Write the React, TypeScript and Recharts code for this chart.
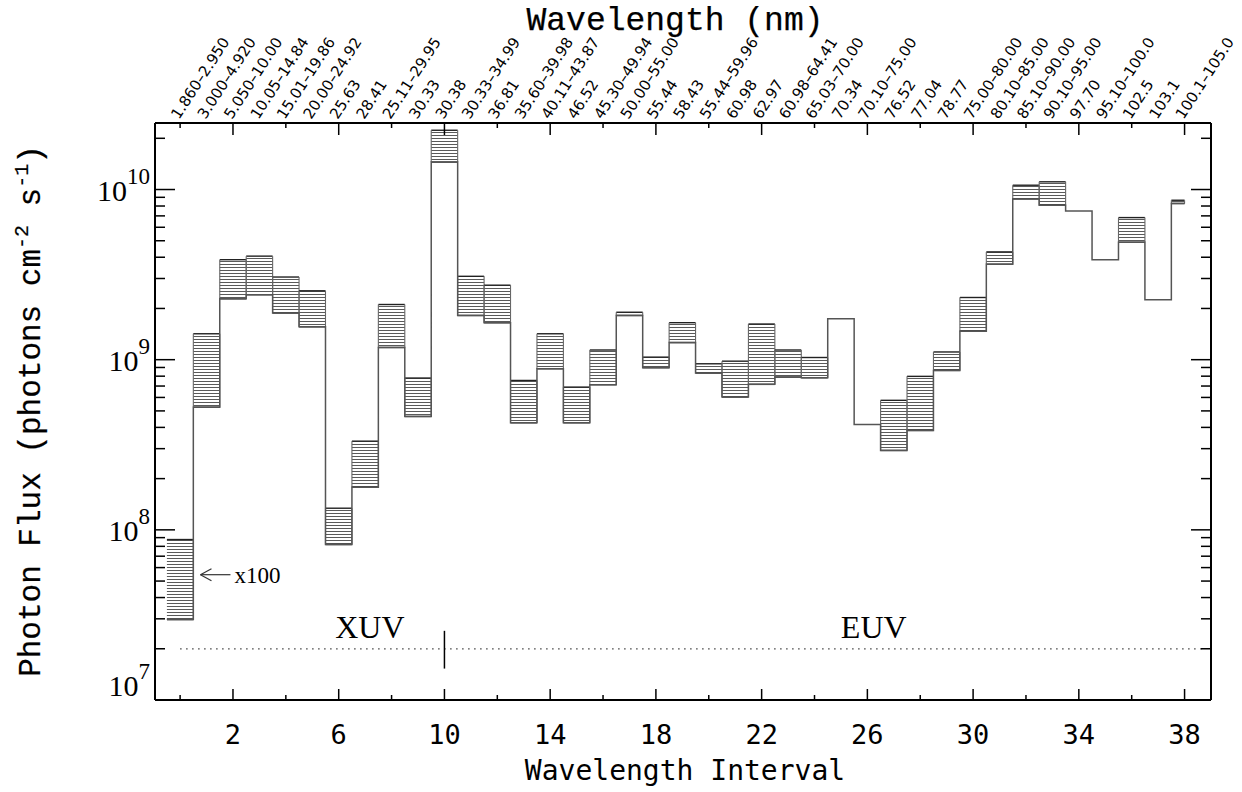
import React from "react";
import {
  ComposedChart,
  XAxis,
  YAxis,
  Line,
  ReferenceArea,
  ReferenceLine,
  ReferenceDot,
} from "recharts";

// Wavelength bin labels (nm), one per interval, index 0..38
const intervalLabels = [
  "1.860–2.950", "3.000–4.920", "5.050–10.00", "10.05–14.84", "15.01–19.86",
  "20.00–24.92", "25.63", "28.41", "25.11–29.95", "30.33",
  "30.38", "30.33–34.99", "36.81", "35.60–39.98", "40.11–43.87",
  "46.52", "45.30–49.94", "50.00–55.00", "55.44", "58.43",
  "55.44–59.96", "60.98", "62.97", "60.98–64.41", "65.03–70.00",
  "70.34", "70.10–75.00", "76.52", "77.04", "78.77",
  "75.00–80.00", "80.10–85.00", "85.10–90.00", "90.10–95.00", "97.70",
  "95.10–100.0", "102.5", "103.1", "100.1–105.0",
];

// lowest and highest photon flux in each interval (photons cm^-2 s^-1)
const fluxLow = [
  2.97e7, 5.26e8, 2.28e9, 2.41e9, 1.88e9,
  1.56e9, 8.2e7, 1.78e8, 1.18e9, 4.64e8,
  1.45e10, 1.82e9, 1.65e9, 4.26e8, 8.85e8,
  4.26e8, 7.13e8, 1.82e9, 8.98e8, 1.26e9,
  8.34e8, 6.03e8, 7.16e8, 7.9e8, 7.83e8,
  1.74e9, 4.16e8, 2.93e8, 3.84e8, 8.65e8,
  1.47e9, 3.64e9, 8.81e9, 8.09e9, 7.48e9,
  3.87e9, 4.9e9, 2.25e9, 8.28e9,
];
const fluxHigh = [
  8.77e7, 1.42e9, 3.87e9, 4.06e9, 3.06e9,
  2.54e9, 1.34e8, 3.32e8, 2.11e9, 7.8e8,
  2.23e10, 3.09e9, 2.74e9, 7.55e8, 1.42e9,
  6.9e8, 1.14e9, 1.9e9, 1.035e9, 1.65e9,
  9.46e8, 9.8e8, 1.62e9, 1.14e9, 1.03e9,
  1.74e9, 4.16e8, 5.77e8, 7.98e8, 1.11e9,
  2.32e9, 4.3e9, 1.06e10, 1.11e10, 7.48e9,
  3.87e9, 6.84e9, 2.25e9, 8.65e9,
];

const bottomTicks = [0, 2, 4, 6, 8, 10, 12, 14, 16, 18, 20, 22, 24, 26, 28, 30, 32, 34, 36, 38];
const bottomLabels = [2, 6, 10, 14, 18, 22, 26, 30, 34, 38];
const yDecades = [1e7, 1e8, 1e9, 1e10];
const yMinor = [2, 3, 4, 5, 6, 7, 8, 9];

const Y_MIN = 1e7;
const Y_MAX = 2.46e10;
const LAST = intervalLabels.length - 1;

const yTicks = yDecades
  .flatMap((d) => [d, ...yMinor.map((m) => m * d)])
  .filter((v) => v <= Y_MAX);
const topTicks = intervalLabels.map((_, i) => i);

// histogram outline through the lowest value of each bin
const stepData = fluxLow.map((v, i) => ({ x: i - 0.5, flux: v }));
stepData.push({ x: LAST, flux: fluxLow[LAST] });

const MONO = "'DejaVu Sans Mono', monospace";
const SERIF_MONO = "'Liberation Mono', monospace";

function BandShape(props: any) {
  const { x, y, width, height, idx } = props;
  if (width == null || height == null) return null;
  const pid = `hatch-${idx}`;
  return (
    <g>
      <defs>
        <pattern id={pid} patternUnits="userSpaceOnUse" width={8} height={3}>
          <rect x={0} y={0} width={8} height={1} fill="#5a5a5a" />
        </pattern>
      </defs>
      <rect x={x} y={y} width={width} height={height} fill={`url(#${pid})`} />
      <line x1={x} x2={x + width} y1={y} y2={y} stroke="#222" strokeWidth={1.4} />
      <line x1={x} x2={x + width} y1={y + height} y2={y + height} stroke="#333" strokeWidth={1.4} />
      {idx !== 0 && (
        <line x1={x} x2={x} y1={y} y2={y + height} stroke="#666" strokeWidth={1.1} />
      )}
      <line x1={x + width} x2={x + width} y1={y} y2={y + height} stroke="#666" strokeWidth={1.1} />
    </g>
  );
}

function BottomTick({ x, y, payload }: any) {
  const v = payload.value;
  const labeled = bottomLabels.includes(v);
  return (
    <g>
      <line x1={x} x2={x} y1={y} y2={y - (labeled ? 11 : 5)} stroke="#000" strokeWidth={1.5} />
      {labeled && (
        <text x={x} y={y + 44} textAnchor="middle" fontFamily={MONO} fontSize={27} fill="#000">
          {v}
        </text>
      )}
    </g>
  );
}

function TopTick({ x, y, payload }: any) {
  const i = payload.value;
  const even = i % 2 === 0;
  const long = bottomLabels.includes(i);
  const tx = x - 1;
  const ty = y - 3;
  return (
    <g>
      {even && (
        <line x1={x} x2={x} y1={y} y2={y + (long ? 12 : 5)} stroke="#000" strokeWidth={1.5} />
      )}
      <text
        x={tx}
        y={ty}
        transform={`rotate(-57 ${tx} ${ty})`}
        textAnchor="start"
        fontFamily="'DejaVu Sans', sans-serif"
        fontSize={15}
        fill="#000"
      >
        {intervalLabels[i]}
      </text>
    </g>
  );
}

function LeftTick({ x, y, payload }: any) {
  const v = payload.value;
  const major = yDecades.includes(v);
  const exp = Math.round(Math.log10(v));
  const base = v === Y_MIN ? y - 4 : y + 11;
  return (
    <g>
      <line x1={x} x2={x + (major ? 20 : 10)} y1={y} y2={y} stroke="#000" strokeWidth={1.5} />
      {major && (
        <text x={x - 5} y={base} textAnchor="end" fontFamily="'Liberation Serif', serif" fill="#000">
          <tspan fontSize={30}>10</tspan>
          <tspan fontSize={23} dy={-17}>{exp}</tspan>
        </text>
      )}
    </g>
  );
}

function RightTick({ x, y, payload }: any) {
  const major = yDecades.includes(payload.value);
  return <line x1={x} x2={x - (major ? 20 : 10)} y1={y} y2={y} stroke="#000" strokeWidth={1.5} />;
}

export default function App() {
  return (
    <div style={{ position: "absolute", left: 0, top: 0, width: 1242, height: 792, background: "#fff" }}>
      <ComposedChart width={1242} height={792} margin={{ top: 63, right: 1, bottom: 32, left: 75 }}>
        <XAxis
          xAxisId="b"
          dataKey="x"
          type="number"
          domain={[-0.95, 39]}
          allowDataOverflow
          ticks={bottomTicks}
          interval={0}
          tickSize={0}
          tickMargin={0}
          tickLine={false}
          tick={<BottomTick />}
          height={60}
          axisLine={{ stroke: "#000", strokeWidth: 2 }}
          label={{
            content: () => (
              <text x={685} y={780} textAnchor="middle" fontFamily={MONO} fontSize={28} fill="#000">
                Wavelength Interval
              </text>
            ),
          }}
        />
        <XAxis
          xAxisId="t"
          orientation="top"
          dataKey="x"
          type="number"
          domain={[-0.95, 39]}
          allowDataOverflow
          ticks={topTicks}
          interval={0}
          tickSize={0}
          tickMargin={0}
          tickLine={false}
          tick={<TopTick />}
          height={60}
          axisLine={{ stroke: "#000", strokeWidth: 2 }}
          label={{
            content: () => (
              <text
                x={675}
                y={30}
                textAnchor="middle"
                fontFamily={SERIF_MONO}
                fontSize={33}
                fill="#000"
                stroke="#000"
                strokeWidth={0.25}
              >
                Wavelength (nm)
              </text>
            ),
          }}
        />
        <YAxis
          yAxisId="l"
          scale="log"
          domain={[Y_MIN, Y_MAX]}
          allowDataOverflow
          ticks={yTicks}
          interval={0}
          tickSize={0}
          tickMargin={0}
          tickLine={false}
          tick={<LeftTick />}
          width={80}
          axisLine={{ stroke: "#000", strokeWidth: 2 }}
          label={{
            content: () => (
              <text
                transform="translate(40 411) rotate(-90)"
                textAnchor="middle"
                fontFamily={SERIF_MONO}
                fontSize={31}
                fill="#000"
                stroke="#000"
                strokeWidth={0.2}
              >
                Photon Flux (photons cm
                <tspan fontSize={20} dy={-12}>-2</tspan>
                <tspan dy={12}> s</tspan>
                <tspan fontSize={20} dy={-12}>-1</tspan>
                <tspan dy={12}>)</tspan>
              </text>
            ),
          }}
        />
        <YAxis
          yAxisId="r"
          orientation="right"
          scale="log"
          domain={[Y_MIN, Y_MAX]}
          allowDataOverflow
          ticks={yTicks}
          interval={0}
          tickSize={0}
          tickMargin={0}
          tickLine={false}
          tick={<RightTick />}
          width={30}
          axisLine={{ stroke: "#000", strokeWidth: 2 }}
        />

        {fluxLow.map((lo, i) =>
          fluxHigh[i] > lo ? (
            <ReferenceArea
              key={`band-${i}`}
              xAxisId="b"
              yAxisId="l"
              x1={i - 0.5}
              x2={i === LAST ? i : i + 0.5}
              y1={lo}
              y2={fluxHigh[i]}
              shape={(p: any) => <BandShape {...p} idx={i} />}
            />
          ) : null
        )}

        <Line
          xAxisId="b"
          yAxisId="l"
          data={stepData}
          dataKey="flux"
          type="stepAfter"
          stroke="#555"
          strokeWidth={1.5}
          dot={false}
          activeDot={false}
          isAnimationActive={false}
        />
        <Line
          xAxisId="t"
          yAxisId="r"
          data={stepData}
          dataKey="flux"
          stroke="none"
          dot={false}
          activeDot={false}
          isAnimationActive={false}
        />

        <ReferenceLine
          xAxisId="b"
          yAxisId="l"
          segment={[{ x: 0, y: 2e7 }, { x: 38.75, y: 2e7 }]}
          stroke="#444"
          strokeWidth={1.2}
          strokeDasharray="1.5 4.5"
        />
        <ReferenceLine
          xAxisId="b"
          yAxisId="l"
          segment={[{ x: 10, y: 2.55e7 }, { x: 10, y: 1.53e7 }]}
          stroke="#000"
          strokeWidth={1.5}
        />
        <ReferenceDot
          xAxisId="b"
          yAxisId="l"
          x={7.18}
          y={2.7e7}
          r={0}
          shape={(p: any) => (
            <text x={p.cx} y={p.cy + 11} textAnchor="middle" fontFamily="'Liberation Serif', serif" fontSize={32} fill="#000">
              XUV
            </text>
          )}
        />
        <ReferenceDot
          xAxisId="b"
          yAxisId="l"
          x={26.24}
          y={2.7e7}
          r={0}
          shape={(p: any) => (
            <text x={p.cx} y={p.cy + 11} textAnchor="middle" fontFamily="'Liberation Serif', serif" fontSize={32} fill="#000">
              EUV
            </text>
          )}
        />
        <ReferenceDot
          xAxisId="b"
          yAxisId="l"
          x={0.77}
          y={5.45e7}
          r={0}
          shape={(p: any) => (
            <g>
              <line x1={p.cx} x2={p.cx + 30} y1={p.cy} y2={p.cy} stroke="#333" strokeWidth={1.2} />
              <line x1={p.cx} x2={p.cx + 11} y1={p.cy} y2={p.cy - 6} stroke="#333" strokeWidth={1.2} />
              <line x1={p.cx} x2={p.cx + 11} y1={p.cy} y2={p.cy + 6} stroke="#333" strokeWidth={1.2} />
              <text x={p.cx + 34} y={p.cy + 8} fontFamily="'Liberation Serif', serif" fontSize={23} fill="#000">
                x100
              </text>
            </g>
          )}
        />
      </ComposedChart>
    </div>
  );
}
